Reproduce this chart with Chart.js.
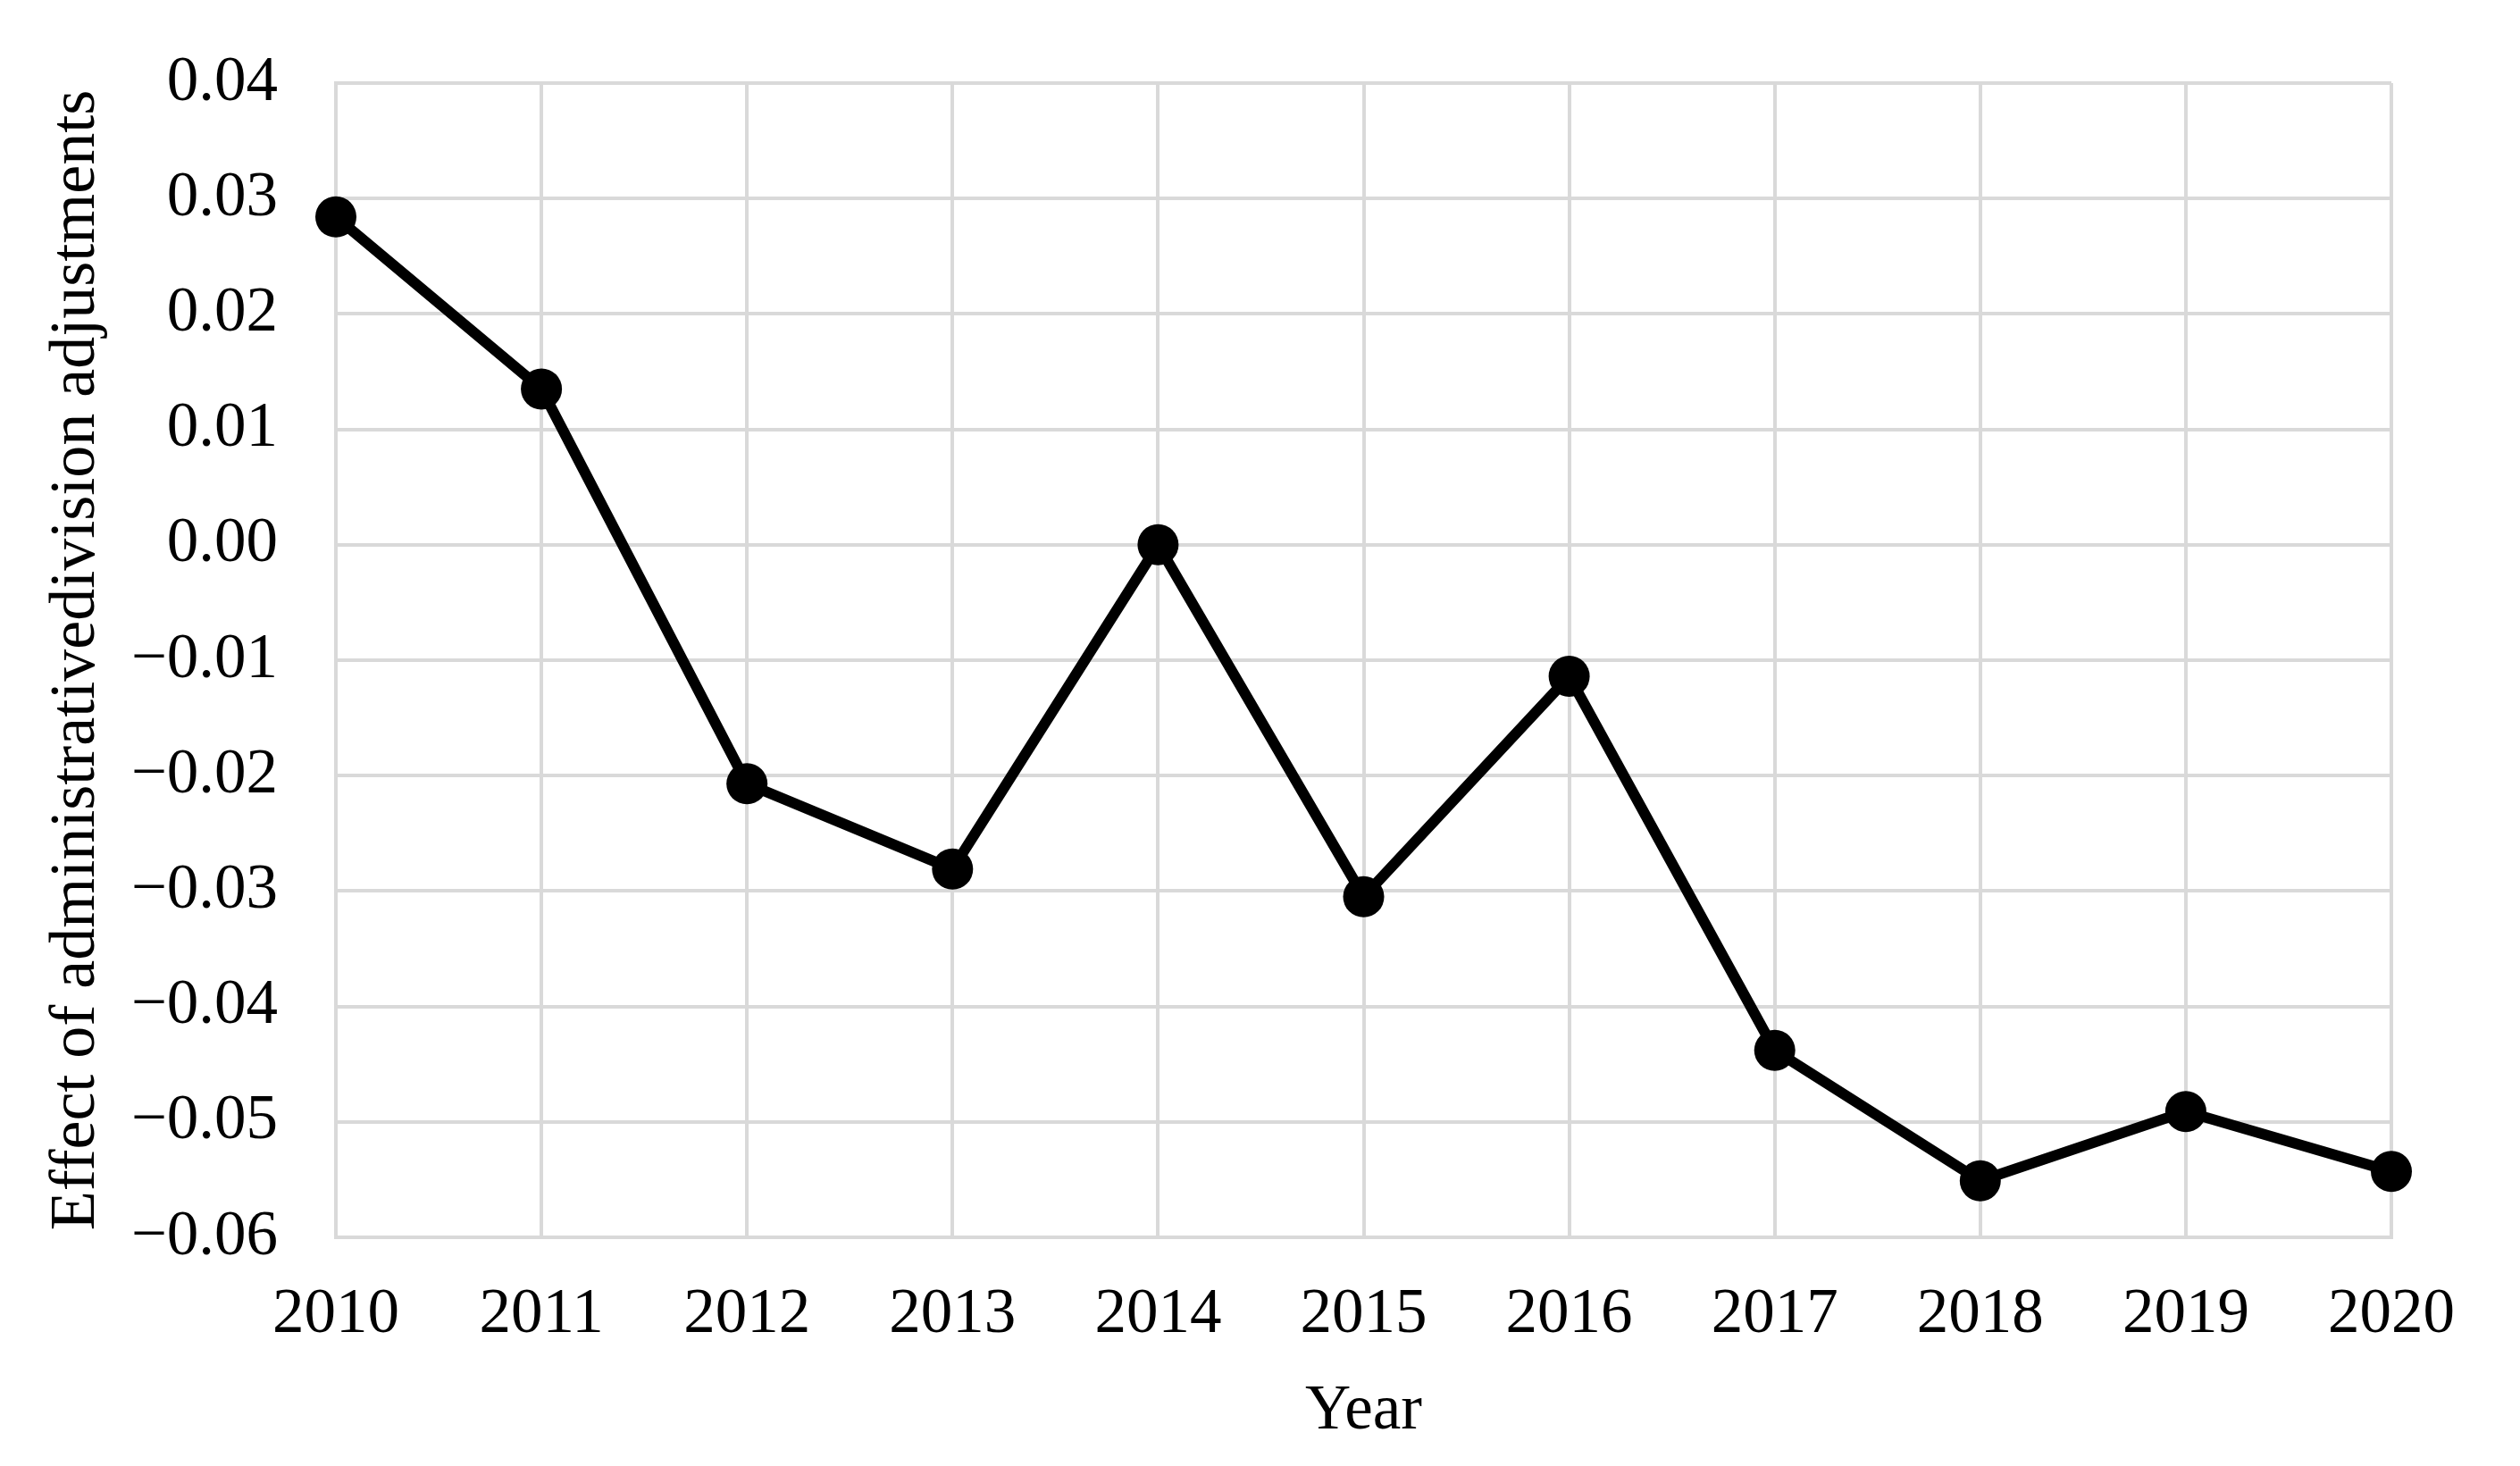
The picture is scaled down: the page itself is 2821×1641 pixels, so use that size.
<!DOCTYPE html>
<html>
<head>
<meta charset="utf-8">
<title>Effect of administrative division adjustments</title>
<script src="https://cdn.jsdelivr.net/npm/chart.js@4/dist/chart.umd.min.js"></script>
<style>
  html, body { margin: 0; padding: 0; background: #ffffff; }
  #chartBox { width: 2821px; height: 1641px; }
</style>
</head>
<body>
<div id="chartBox"><canvas id="myChart"></canvas></div>
<script>
"use strict";

/* ****************************************************************************
    DATA
**************************************************************************** */
var years = ["2010", "2011", "2012", "2013", "2014", "2015", "2016", "2017", "2018", "2019", "2020"];
var effectValues = [0.0284, 0.0135, -0.0207, -0.0281, 0.0000, -0.0305, -0.0114, -0.0438, -0.0551, -0.0491, -0.0543];
var yTickMin = -0.06;
var yTickMax = 0.04;
var yTickStep = 0.01;

/* ****************************************************************************
    STYLE
**************************************************************************** */
var fontFamily = "'Liberation Serif', 'Times New Roman', serif";
var gridColor = "#d9d9d9";

/**
 * Format a tick value the way the original figure does (true minus sign).
 *
 * @param {number} value - tick value
 * @returns {string} - label text
 */
function formatTick(value) {
  let txt = Math.abs(value).toFixed(2);
  if (value < -0.00001) {
    txt = "\u2212" + txt;
  }
  return txt;
}

/**
 * Draw the line chart.
 */
function renderChart() {
  const data = {
    labels: years,
    datasets: [
      {
        label: "Effect",
        data: effectValues,
        borderColor: "#000000",
        backgroundColor: "#000000",
        borderWidth: 12,
        pointRadius: 23,
        pointHoverRadius: 23,
        pointBackgroundColor: "#000000",
        pointBorderColor: "#000000",
        pointBorderWidth: 0,
        tension: 0,
        clip: false,
      },
    ],
  };

  const config = {
    type: "line",
    data: data,
    options: {
      responsive: true,
      maintainAspectRatio: false,
      animation: false,
      layout: {
        autoPadding: false,
        padding: { top: 93, right: 144, bottom: 0, left: 0 },
      },
      plugins: {
        legend: { display: false },
        tooltip: { enabled: false },
      },
      scales: {
        x: {
          type: "category",
          offset: false,
          grid: { color: gridColor, lineWidth: 4, drawTicks: false },
          border: { color: gridColor, width: 4 },
          ticks: {
            color: "#000000",
            padding: 45,
            maxRotation: 0,
            font: { family: fontFamily, size: 71, lineHeight: 1.2 },
          },
          title: {
            display: true,
            text: "Year",
            color: "#000000",
            padding: { top: 0, bottom: 18 },
            font: { family: fontFamily, size: 71, lineHeight: 1.2 },
          },
          afterFit: function (scale) {
            scale.height = 256;
          },
        },
        y: {
          min: yTickMin,
          max: yTickMax,
          grid: { color: gridColor, lineWidth: 4, drawTicks: false },
          border: { color: gridColor, width: 4 },
          ticks: {
            stepSize: yTickStep,
            color: "#000000",
            padding: 65,
            font: { family: fontFamily, size: 71, lineHeight: 1.2 },
            callback: function (value) {
              return formatTick(value);
            },
          },
          title: {
            display: true,
            text: "Effect of administrativedivision adjustments",
            color: "#000000",
            padding: { top: 43, bottom: 0 },
            font: { family: fontFamily, size: 72, lineHeight: 1.2 },
          },
          afterFit: function (scale) {
            // fixed axis box; tick padding should not push the plot down
            scale.width = 376;
            scale.paddingTop = 0;
            scale.paddingBottom = 0;
          },
        },
      },
    },
  };

  let canvasChart = document.getElementById("myChart");
  new Chart(canvasChart, config);
}

renderChart();
</script>
</body>
</html>
